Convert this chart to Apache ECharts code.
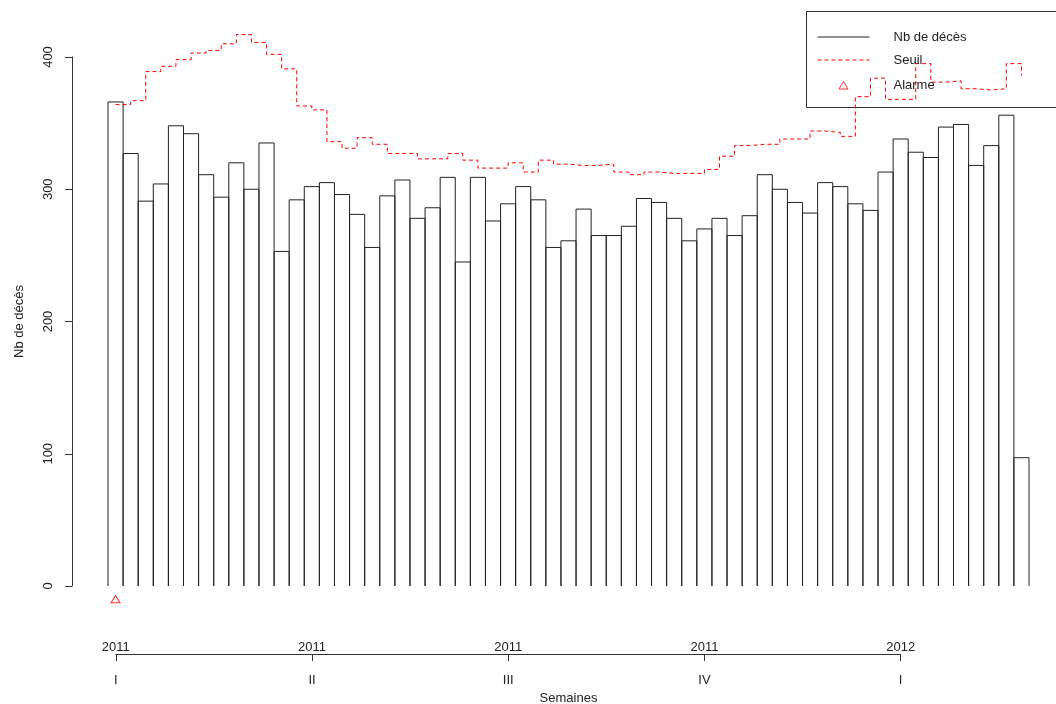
<!DOCTYPE html>
<html>
<head>
<meta charset="utf-8">
<script src="https://cdn.jsdelivr.net/npm/echarts@6/dist/echarts.min.js"></script>
<style>
  html, body { margin: 0; padding: 0; background: #fff; }
  #chart { width: 1056px; height: 704px; }
</style>
</head>
<body>
<div id="chart"></div>
<script>
// weekly deaths, 2011-S01 .. 2012-S09
var deces = [366, 327, 291, 304, 348, 342, 311, 294, 320, 300,
  335, 253, 292, 302, 305, 296, 281, 256, 295, 307,
  278, 286, 309, 245, 309, 276, 289, 302, 292, 256,
  261, 285, 265, 265, 272, 293, 290, 278, 261, 270,
  278, 265, 280, 311, 300, 290, 282, 305, 302, 289,
  284, 313, 338, 328, 324, 347, 349, 318, 333, 356, 97];

// alert threshold
var seuil = [364, 367, 389, 393, 398, 403, 405, 410, 417, 411,
  402, 391, 363, 360, 336, 331, 339, 334, 327, 327,
  323, 323, 327, 322, 316, 316, 320, 313, 322, 319,
  318, 318, 319, 313, 311, 313, 312, 312, 312, 315,
  325, 333, 334, 334, 338, 338, 344, 343, 340, 370,
  384, 368, 368, 395, 381, 382, 376, 375, 376, 395, 386];

// weeks with an alarm (index) and the level where the marker sits
var alarmeIdx = [0];
var alarmeVal = [-10];

// quarter axis
var trimPos = [0, 13, 26, 39, 52];
var trimAnnee = ['2011', '2011', '2011', '2011', '2012'];
var trimNom = ['I', 'II', 'III', 'IV', 'I'];

var semaines = [];
for (var i = 0; i < deces.length; i++) {
  var an = i < 52 ? 2011 : 2012;
  var s = i < 52 ? i + 1 : i - 51;
  semaines.push(an + '-S' + (s < 10 ? '0' + s : s));
}

var FONT = 'Liberation Sans, Arial, sans-serif';
var TXT = '#222';

// dashed icon for the legend
var dash = 'path://M0,0M52,14';
for (var d = 0; d < 52; d += 7) {
  var w = Math.min(4, 52 - d);
  dash += 'M' + d + ',6.5h' + w + 'v1h-' + w + 'z';
}

var chart = echarts.init(document.getElementById('chart'));
var option = {
  animation: false,
  textStyle: { fontFamily: FONT },
  grid: [
    { left: 108, right: 27, top: 57, bottom: 118, outerBoundsMode: 'none' },
    { left: 115.85, right: 155.35, top: 634, bottom: 50, outerBoundsMode: 'none' }
  ],
  // legend frame runs off the right edge, like the original
  graphic: [{
    type: 'rect',
    shape: { x: 806.5, y: 11.5, width: 300, height: 96 },
    style: { fill: null, stroke: '#333', lineWidth: 1 },
    silent: true
  }],
  legend: {
    orient: 'vertical',
    left: 806,
    top: 11,
    selectedMode: false,
    borderWidth: 0,
    padding: [19, 10, 10, 9],
    itemWidth: 52,
    itemHeight: 14,
    itemGap: 9,
    textStyle: { fontSize: 13, color: TXT, fontFamily: FONT, padding: [0, 0, 0, 19] },
    data: [
      { name: 'Nb de décès', icon: 'path://M0,0M52,14M0,6.5h52v1h-52z',
        itemStyle: { color: '#222', borderWidth: 0 } },
      { name: 'Seuil', icon: dash,
        itemStyle: { color: '#ff0000', borderWidth: 0 } },
      { name: 'Alarme', icon: 'path://M0,0M52,14M21.5,10.5L26,3L30.5,10.5Z',
        itemStyle: { color: 'none', borderColor: '#ff0000', borderWidth: 1 } }
    ]
  },
  xAxis: [
    {
      type: 'category',
      gridIndex: 0,
      data: semaines,
      boundaryGap: true,
      axisLine: { show: false },
      axisTick: { show: false },
      axisLabel: { show: false },
      splitLine: { show: false },
      name: 'Semaines',
      nameLocation: 'middle',
      nameGap: 106,
      nameTextStyle: { fontSize: 13, color: TXT, fontFamily: FONT }
    },
    {
      type: 'value',
      gridIndex: 1,
      position: 'bottom',
      min: 0,
      max: 52,
      interval: 13,
      axisLine: { show: true, lineStyle: { color: '#333', width: 1 } },
      axisTick: { show: true, length: 7, lineStyle: { color: '#333' } },
      axisLabel: {
        inside: true,
        margin: 0,
        fontSize: 13,
        color: TXT,
        formatter: function (v) { return trimAnnee[trimPos.indexOf(v)]; }
      },
      splitLine: { show: false }
    },
    {
      type: 'value',
      gridIndex: 1,
      position: 'bottom',
      min: 0,
      max: 52,
      interval: 13,
      offset: 12,
      axisLine: { show: false },
      axisTick: { show: false },
      axisLabel: {
        margin: 8,
        fontSize: 13,
        color: TXT,
        formatter: function (v) { return trimNom[trimPos.indexOf(v)]; }
      },
      splitLine: { show: false }
    }
  ],
  yAxis: [
    {
      type: 'value',
      gridIndex: 0,
      min: 0,
      max: 400,
      interval: 100,
      offset: 36,
      axisLine: { show: true, lineStyle: { color: '#333', width: 1 } },
      axisTick: { show: true, length: 7, lineStyle: { color: '#333' } },
      axisLabel: { rotate: 90, margin: 17, fontSize: 13, color: TXT },
      splitLine: { show: false },
      name: 'Nb de décès',
      nameLocation: 'middle',
      nameGap: 46,
      nameTextStyle: { fontSize: 13, color: TXT, fontFamily: FONT }
    },
    { type: 'value', gridIndex: 1, show: false, min: 0, max: 1 }
  ],
  series: [
    {
      name: 'Nb de décès',
      type: 'custom',
      xAxisIndex: 0,
      yAxisIndex: 0,
      clip: false,
      data: deces.map(function (v, i) { return [i, v]; }),
      encode: { x: 0, y: 1 },
      renderItem: function (params, api) {
        var top = api.coord([api.value(0), api.value(1)]);
        var base = api.coord([api.value(0), 0]);
        var half = api.size([1, 0])[0] / 2;
        return {
          type: 'polyline',
          shape: {
            points: [
              [top[0] - half, base[1]],
              [top[0] - half, top[1]],
              [top[0] + half, top[1]],
              [top[0] + half, base[1]]
            ]
          },
          style: { stroke: '#222', fill: null, lineWidth: 1 }
        };
      }
    },
    {
      name: 'Seuil',
      type: 'line',
      xAxisIndex: 0,
      yAxisIndex: 0,
      step: 'end',
      clip: false,
      symbol: 'none',
      data: seuil,
      lineStyle: { color: '#ff0000', width: 1, type: [4, 3] },
      itemStyle: { color: '#ff0000' },
      z: 3
    },
    {
      name: 'Alarme',
      type: 'scatter',
      xAxisIndex: 0,
      yAxisIndex: 0,
      clip: false,
      symbol: 'triangle',
      symbolSize: [9, 7],
      data: alarmeIdx.map(function (k, j) { return [k, alarmeVal[j]]; }),
      itemStyle: { color: 'transparent', borderColor: '#ff0000', borderWidth: 1 },
      z: 4
    }
  ]
};
chart.setOption(option);
window.addEventListener('resize', function () { chart.resize(); });
</script>
</body>
</html>
